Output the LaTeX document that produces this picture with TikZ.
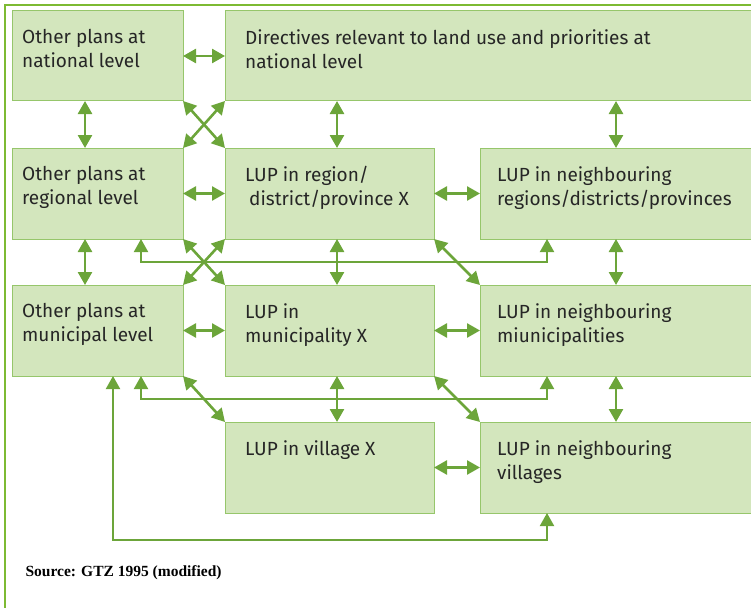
\documentclass[tikz,border=0pt]{standalone}
\usepackage{fontspec}
\setmainfont{Liberation Serif}
\newfontfamily\dinfont{Fira Sans}
\usetikzlibrary{arrows.meta,positioning}

\definecolor{lupfill}{HTML}{D3E6BD}
\definecolor{lupedge}{HTML}{96C66B}
\definecolor{luparrow}{HTML}{6CA53A}
\definecolor{lupframe}{HTML}{7DBA32}

\begin{document}
\begin{tikzpicture}[
    x=1pt, y=-1pt,
    box/.style={draw=lupedge, line width=1pt, fill=lupfill, inner sep=0pt,
                outer sep=0pt, minimum height=91pt},
    narrow/.style={box, minimum width=171pt},
    mid/.style={box, minimum width=209pt},
    wide/.style={box, minimum width=290pt},
    txt/.style={anchor=north west, inner sep=0pt, align=left, text=black!85,
                font=\dinfont\fontsize{19}{24}\selectfont},
    tip/.tip={Triangle[length=13pt,width=14pt]},
    arr/.style={draw=luparrow, line width=2.6pt, tip-tip},
    link/.style={arr, line width=2pt},
    ]
\clip (0,0) rectangle (751,607);
\draw[lupframe, line width=2.5pt] (5,620) -- (5,5) -- (760,5);

% boxes, row by row
\node[narrow, minimum height=90pt, anchor=north west] (nat) at (12,11) {};
\node[box, minimum width=540pt, minimum height=90pt, right=42pt of nat] (dir) {};
\node[narrow, below=47pt of nat] (reg) {};
\node[mid, right=42pt of reg] (regX) {};
\node[wide, right=46pt of regX] (regN) {};
\node[narrow, below=46pt of reg] (mun) {};
\node[mid, right=42pt of mun] (munX) {};
\node[wide, right=46pt of munX] (munN) {};
\node[mid, below=46pt of munX] (vilX) {};
\node[wide, right=46pt of vilX] (vilN) {};

% texts
\node[txt] (nat-t) at ([shift={(10,18)}]nat.north west)
  {Other plans at\\national level};
\node[txt] (dir-t) at ([shift={(20,18)}]dir.north west)
  {Directives relevant to land use and priorities at\\national level};
\node[txt] (reg-t) at ([shift={(10,18)}]reg.north west)
  {Other plans at\\regional level};
\node[txt] (regX-t) at ([shift={(20,18)}]regX.north west)
  {LUP in region/\\\hspace*{4pt}district/province X};
\node[txt] (regN-t) at ([shift={(17,18)}]regN.north west)
  {LUP in neighbouring\\regions/districts/provinces};
\node[txt] (mun-t) at ([shift={(10,18)}]mun.north west)
  {Other plans at\\municipal level};
\node[txt] (munX-t) at ([shift={(20,18)}]munX.north west)
  {LUP in\\municipality X};
\node[txt] (munN-t) at ([shift={(17,18)}]munN.north west)
  {LUP in neighbouring\\miunicipalities};
\node[txt] (vilX-t) at ([shift={(20,18)}]vilX.north west)
  {LUP in village X};
\node[txt] (vilN-t) at ([shift={(17,18)}]vilN.north west)
  {LUP in neighbouring\\villages};

% side by side
\draw[arr] (nat) -- (dir.west |- nat);
\draw[arr] (reg) -- (regX);
\draw[arr] (regX) -- (regN);
\draw[arr] (mun) -- (munX);
\draw[arr] (munX) -- (munN);
\draw[arr] (vilX) -- (vilN);

% one level down
\draw[arr] ([xshift=73pt]nat.south west) -- ([xshift=73pt]reg.north west);
\draw[arr] ([xshift=73pt]reg.south west) -- ([xshift=73pt]mun.north west);
\draw[arr] ([xshift=112pt]dir.south west) -- ([xshift=112pt]regX.north west);
\draw[arr] ([xshift=112pt]regX.south west) -- ([xshift=112pt]munX.north west);
\draw[arr] ([xshift=112pt]munX.south west) -- ([xshift=112pt]vilX.north west);
\draw[arr] ([xshift=391pt]dir.south west) -- ([xshift=136pt]regN.north west);
\draw[arr] ([xshift=136pt]regN.south west) -- ([xshift=136pt]munN.north west);
\draw[arr] ([xshift=136pt]munN.south west) -- ([xshift=136pt]vilN.north west);

% across
\draw[arr] (nat.south east) -- (regX.north west);
\draw[arr] (dir.south west) -- (reg.north east);
\draw[arr] (reg.south east) -- (munX.north west);
\draw[arr] (regX.south west) -- (mun.north east);
\draw[arr] (regX.south east) -- (munN.north west);
\draw[arr] (mun.south east) -- (vilX.north west);
\draw[arr] (munX.south east) -- (vilN.north west);

% links to the neighbours
\draw[link] ([xshift=129pt]reg.south west) |- (547,262)
  -- ([xshift=67pt]regN.south west);
\draw[link] ([xshift=129pt]mun.south west) |- (547,399)
  -- ([xshift=67pt]munN.south west);
\draw[link] ([xshift=101pt]mun.south west) |- (547,540)
  -- ([xshift=67pt]vilN.south west);

\node[anchor=west, font=\bfseries\fontsize{15.5}{18}\selectfont] (src) at (22,573)
  {Source: GTZ 1995 (modified)};
\end{tikzpicture}
\end{document}
